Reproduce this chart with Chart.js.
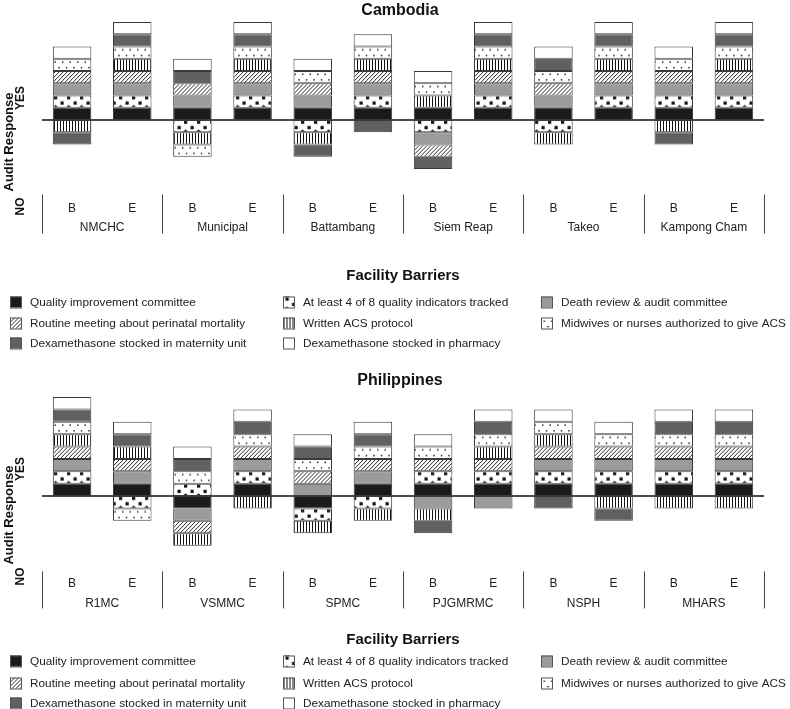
<!DOCTYPE html>
<html><head><meta charset="utf-8">
<script src="https://cdn.jsdelivr.net/npm/chart.js@4"></script>
<style>
html,body{margin:0;padding:0;background:#fff;}
#wrap{position:relative;width:790px;height:709px;overflow:hidden;background:#fff;}
canvas{position:absolute;left:0;}
</style></head><body>
<div id="wrap">
<canvas id="kh" width="790" height="365" style="top:0;width:790px;height:365px"></canvas>
<canvas id="ph" width="790" height="344" style="top:365px;width:790px;height:344px"></canvas>
</div>
<script>
// ---------- DATA ----------
const barriers = [
  'Quality improvement committee',
  'At least 4 of 8 quality indicators tracked',
  'Death review & audit committee',
  'Routine meeting about perinatal mortality',
  'Written ACS protocol',
  'Midwives or nurses authorized to give ACS',
  'Dexamethasone stocked in maternity unit',
  'Dexamethasone stocked in pharmacy'
];
const phases = ['B', 'E'];
const khFacilities = ['NMCHC', 'Municipal', 'Battambang', 'Siem Reap', 'Takeo', 'Kampong Cham'];
const phFacilities = ['R1MC', 'VSMMC', 'SPMC', 'PJGMRMC', 'NSPH', 'MHARS'];

// audit response per bar (B,E for each facility): 1 = YES, -1 = NO
const khQI       = [1, 1, 1, 1, 1, 1, 1, 1, 1, 1, 1, 1];
const khIndic    = [1, 1,-1, 1,-1, 1,-1, 1,-1, 1, 1, 1];
const khReview   = [1, 1, 1, 1, 1, 1,-1, 1, 1, 1, 1, 1];
const khMeeting  = [1, 1, 1, 1, 1, 1,-1, 1, 1, 1, 1, 1];
const khProtocol = [-1,1,-1, 1,-1, 1, 1, 1,-1, 1,-1, 1];
const khMidwives = [1, 1,-1, 1, 1, 1, 1, 1, 1, 1, 1, 1];
const khDexMat   = [-1,1, 1, 1,-1,-1,-1, 1, 1, 1,-1, 1];
const khDexPharm = [1, 1, 1, 1, 1, 1, 1, 1, 1, 1, 1, 1];

const phQI       = [1, 1,-1, 1,-1, 1, 1, 1, 1, 1, 1, 1];
const phIndic    = [1,-1, 1, 1,-1,-1, 1, 1, 1, 1, 1, 1];
const phReview   = [1, 1,-1, 1, 1, 1,-1,-1, 1, 1, 1, 1];
const phMeeting  = [1, 1,-1, 1, 1, 1, 1, 1, 1, 1, 1, 1];
const phProtocol = [1, 1,-1,-1,-1,-1,-1, 1, 1,-1,-1,-1];
const phMidwives = [1,-1, 1, 1, 1, 1, 1, 1, 1, 1, 1, 1];
const phDexMat   = [1, 1, 1, 1, 1, 1,-1, 1,-1,-1, 1, 1];
const phDexPharm = [1, 1, 1, 1, 1, 1, 1, 1, 1, 1, 1, 1];

// ---------- STYLE ----------
const FONT = '"Liberation Sans", Arial, Helvetica, sans-serif';
Chart.defaults.font.family = FONT;

function tile(w, h, draw) {
  const c = document.createElement('canvas');
  c.width = w; c.height = h;
  const g = c.getContext('2d');
  g.fillStyle = '#fff'; g.fillRect(0, 0, w, h);
  g.fillStyle = '#111'; g.strokeStyle = '#111';
  draw(g);
  return c;
}
const tiles = {
  indic: tile(13, 12, g => {
    g.fillRect(2, 0.5, 3.2, 3.2);
    g.fillRect(8.5, 5.8, 3.2, 3.2);
    g.beginPath(); g.moveTo(0.5, 12); g.lineTo(3.6, 9.2); g.lineTo(6.7, 12); g.closePath(); g.fill();
  }),
  hatch: tile(12, 12, g => {
    g.lineWidth = 0.9;
    for (let s = -12; s <= 12; s += 4) { g.beginPath(); g.moveTo(s, 12); g.lineTo(s + 12, 0); g.stroke(); }
  }),
  vert: tile(3, 12, g => { g.fillRect(0, 0, 1, 12); }),
  dots: tile(15, 12, g => {
    [[2, 2.5], [9.5, 2.5], [5.8, 8], [13.3, 8]].forEach(([x, y]) => g.fillRect(x, y, 1.4, 1.4));
  })
};

function makeFills(ctx) {
  const pats = {
    indic: ctx.createPattern(tiles.indic, 'repeat'),
    hatch: ctx.createPattern(tiles.hatch, 'repeat'),
    vert: ctx.createPattern(tiles.vert, 'repeat'),
    dots: ctx.createPattern(tiles.dots, 'repeat')
  };
  return {
    fills: ['#1b1b1b', pats.indic, '#9b9b9b', pats.hatch, pats.vert, pats.dots, '#606060', '#ffffff'],
    patterns: Object.values(pats)
  };
}

const decor = {
  id: 'decor',
  beforeDatasetsDraw(chart, args, o) {
    const {ctx, chartArea: a, scales: {y}} = chart;
    const y0 = y.getPixelForValue(0), unit = y0 - y.getPixelForValue(1);
    o.patterns.forEach(p => p.setTransform(new DOMMatrix([1, 0, 0, unit / 12, 0, y0])));
    ctx.save();
    ctx.strokeStyle = '#111'; ctx.lineWidth = 1.5;
    ctx.beginPath(); ctx.moveTo(a.left, y0); ctx.lineTo(a.right, y0); ctx.stroke();
    ctx.restore();
  },
  afterDraw(chart, args, o) {
    const {ctx, chartArea: a, scales: {x, y}} = chart;
    const y0 = y.getPixelForValue(0);
    ctx.save();
    // title
    ctx.fillStyle = '#111';
    ctx.textAlign = 'center'; ctx.textBaseline = 'middle';
    ctx.font = 'bold 16px ' + FONT;
    ctx.fillText(o.title, 400, o.titleY);
    // y axis words
    const rot = (txt, tx, ty, f) => {
      ctx.save(); ctx.translate(tx, ty); ctx.rotate(-Math.PI / 2);
      ctx.font = f; ctx.fillText(txt, 0, 0); ctx.restore();
    };
    rot('Audit Response', 9, y0 + o.arDy, 'bold 13px ' + FONT);
    rot('YES', 21, y0 + o.yesDy, 'bold 12px ' + FONT);
    rot('NO', 21, a.bottom + o.noDy, 'bold 12px ' + FONT);
    // separators and facility names
    const catW = (a.right - a.left) / x.ticks.length;
    ctx.strokeStyle = '#444'; ctx.lineWidth = 1;
    for (let k = 0; k <= o.facilities.length; k++) {
      const sx = Math.round(a.left + k * 2 * catW) + 0.5;
      ctx.beginPath(); ctx.moveTo(sx, a.bottom + o.sepTop); ctx.lineTo(sx, a.bottom + o.sepBottom); ctx.stroke();
    }
    ctx.font = '12px ' + FONT; ctx.fillStyle = '#222';
    o.facilities.forEach((f, k) => {
      const cx = (x.getPixelForValue(2 * k) + x.getPixelForValue(2 * k + 1)) / 2;
      ctx.fillText(f, cx, a.bottom + o.nameDy);
    });
    // legend
    ctx.font = 'bold 15px ' + FONT; ctx.fillStyle = '#111';
    ctx.fillText('Facility Barriers', 403, o.legTitleY);
    const colX = [10, 283, 541];
    ctx.textAlign = 'left';
    chart.data.datasets.forEach((ds, i) => {
      const col = i % 3, row = Math.floor(i / 3);
      const sx = colX[col], sy = o.legRows[row] - 5.5;
      const bg = ds.backgroundColor;
      if (typeof bg !== 'string') bg.setTransform(new DOMMatrix([1, 0, 0, 1, sx + 0.5, sy + 0.5]));
      ctx.fillStyle = bg;
      ctx.fillRect(sx, sy, 11, 11);
      ctx.strokeStyle = '#555'; ctx.lineWidth = 1;
      ctx.strokeRect(sx + 0.5, sy + 0.5, 11, 11);
      ctx.fillStyle = '#222'; ctx.font = '11.8px ' + FONT;
      ctx.fillText(ds.label, sx + 20, o.legRows[row] + 0.5);
    });
    ctx.restore();
  }
};

function makeChart(id, facilities, series, P) {
  const canvas = document.getElementById(id);
  const ctx = canvas.getContext('2d');
  const {fills, patterns} = makeFills(ctx);
  const labels = facilities.flatMap(() => phases);
  return new Chart(ctx, {
    type: 'bar',
    data: {
      labels,
      datasets: series.map((d, i) => ({
        label: barriers[i], data: d, backgroundColor: fills[i],
        borderColor: '#3a3a3a', borderWidth: 1, borderSkipped: false
      }))
    },
    options: {
      responsive: false, animation: false, devicePixelRatio: 1,
      categoryPercentage: 1, barPercentage: 0.64,
      layout: {padding: {left: 42, right: 26, top: P.top, bottom: P.bottomPad}},
      plugins: {
        legend: {display: false}, tooltip: {enabled: false},
        decor: Object.assign({patterns, facilities}, P)
      },
      scales: {
        x: {
          stacked: true,
          grid: {display: false, drawTicks: false}, border: {display: false},
          ticks: {color: '#222', font: {size: 12}, padding: P.tickPad, maxRotation: 0, autoSkip: false},
          afterFit: s => { s.height = 30; }
        },
        y: {stacked: true, display: false, min: -6, max: 8}
      }
    },
    plugins: [decor]
  });
}

makeChart('kh', khFacilities,
  [khQI, khIndic, khReview, khMeeting, khProtocol, khMidwives, khDexMat, khDexPharm],
  {title: 'Cambodia', titleY: 11, top: 22, bottomPad: 365 - 193.5 - 30, tickPad: 8,
   arDy: 22, yesDy: -22, noDy: 13, sepTop: 1, sepBottom: 40, nameDy: 34.5,
   legTitleY: 276, legRows: [302, 323, 343]});

makeChart('ph', phFacilities,
  [phQI, phIndic, phReview, phMeeting, phProtocol, phMidwives, phDexMat, phDexPharm],
  {title: 'Philippines', titleY: 16, top: 32, bottomPad: 344 - 205.4 - 30, tickPad: 6,
   arDy: 19, yesDy: -27, noDy: 6, sepTop: 1, sepBottom: 38, nameDy: 33,
   legTitleY: 275, legRows: [296, 318, 338]});
</script>
</body></html>
